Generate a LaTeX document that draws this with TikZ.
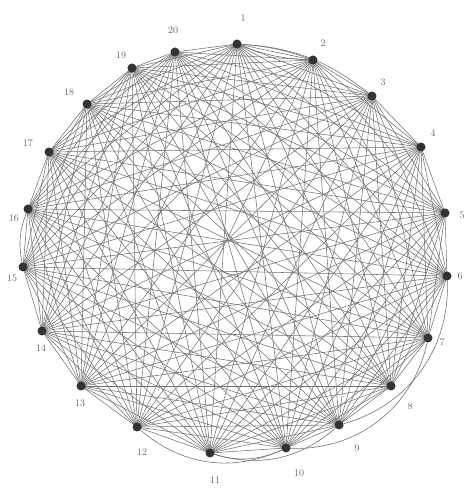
\documentclass[tikz,border=0pt]{standalone}
\usetikzlibrary{backgrounds}
\begin{document}
\begin{tikzpicture}[x=1pt,y=1pt,
  dot/.style={circle,fill=black!80,inner sep=0pt,minimum size=9pt},
  lab/.style={text=black!60,font=\fontsize{10}{12}\selectfont,inner sep=0pt},
  edge/.style={draw=black!55,line width=0.55pt},
  extra/.style={draw=black!55,line width=0.6pt}]
\useasboundingbox (0,0) rectangle (465,493);
\foreach \n/\x/\y in {1/237/449,2/313/433,3/372/397,4/421/346,5/445/280,
  6/447/217,7/428/155,8/391/107,9/339/68,10/286/45,11/210/40,12/137/66,
  13/81/107,14/42/162,15/23/226,16/28/284,17/49/341,18/87/389,19/132/425,20/175/441}
  \node[dot] (n\n) at (\x,\y) {};
\foreach \n/\x/\y in {1/243/475,2/323/450,3/383/411,4/433/360,5/462/278,
  6/460/217,7/442/151,8/410/87,9/357/45,10/299/20,11/215/13,12/142/41,
  13/80/90,14/41/145,15/12/215,16/14/275,17/28/350,18/69/401,19/121/438,20/173/463}
  \node[lab] (l\n) at (\x,\y) {\n};
\begin{scope}[on background layer]
\foreach \i [evaluate=\i as \k using int(\i+1)] in {1,...,19}
  \foreach \j in {\k,...,20}
    \draw[edge] (n\i.center) -- (n\j.center);
\draw[extra] (n1.center) to[bend left=18] (n3.center);
\draw[extra] (n1.center) to[bend right=10] (n2.center);
\draw[extra] (n1.center) to[bend left=8] (n2.center);
\draw[extra] (n6.center) to[bend left=40] (n9.center);
\draw[extra] (n7.center) to[bend left=42] (n10.center);
\draw[extra] (n9.center) to[bend left=30] (n11.center);
\draw[extra] (n12.center) to[bend right=34] (n10.center);
\draw[extra] (n11.center) to[bend right=22] (n10.center);
\draw[extra] (n16.center) to[bend right=18] (n15.center);
\end{scope}
\end{tikzpicture}
\end{document}
